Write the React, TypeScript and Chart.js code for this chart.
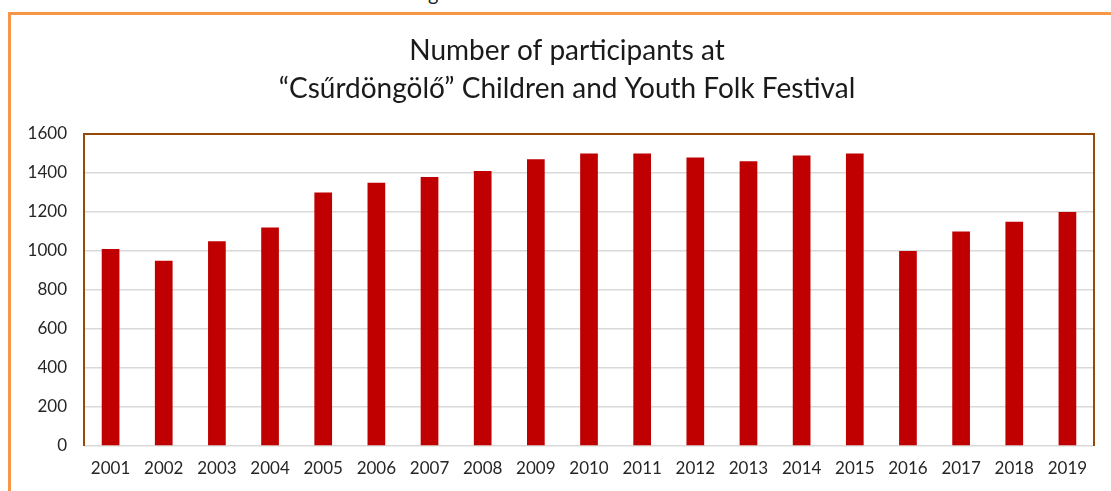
import React, { useEffect, useRef } from "react";
import { Chart, registerables } from "chart.js";

Chart.register(...registerables);

const years: string[] = [
  "2001", "2002", "2003", "2004", "2005", "2006", "2007", "2008", "2009", "2010",
  "2011", "2012", "2013", "2014", "2015", "2016", "2017", "2018", "2019",
];
const participants: number[] = [
  1010, 950, 1050, 1120, 1300, 1350, 1380, 1410, 1470, 1500,
  1500, 1480, 1460, 1490, 1500, 1000, 1100, 1150, 1200,
];
const titleLines: string[] = [
  "Number of participants at",
  "\u201CCs\u0171rd\u00F6ng\u00F6l\u0151\u201D Children and Youth Folk Festival",
];
const yMin = 0;
const yMax = 1600;
const yStep = 200;

const FONT = "Lato, 'Open Sans', sans-serif";

export default function App() {
  const ref = useRef<HTMLCanvasElement | null>(null);

  useEffect(() => {
    if (!ref.current) return;
    const framePlugin = {
      id: "frame",
      afterDraw(chart: any) {
        const { ctx, chartArea } = chart;
        const { left, right, top, bottom } = chartArea;
        ctx.save();
        ctx.strokeStyle = "#984807";
        ctx.lineWidth = 2;
        ctx.beginPath();
        ctx.moveTo(left, bottom);
        ctx.lineTo(left, top);
        ctx.lineTo(right, top);
        ctx.lineTo(right, bottom);
        ctx.stroke();
        ctx.restore();
      },
      beforeDraw(chart: any) {
        const { ctx } = chart;
        ctx.save();
        ctx.fillStyle = "#1a1a1a";
        ctx.font = `28px ${FONT}`;
        ctx.textAlign = "center";
        ctx.textBaseline = "alphabetic";
        ctx.fillText(titleLines[0], 567, 60);
        ctx.fillText(titleLines[1], 567, 98);
        ctx.restore();
      },
    };

    const chart = new Chart(ref.current, {
      type: "bar",
      data: {
        labels: years,
        datasets: [
          {
            data: participants,
            backgroundColor: "#C00000",
            borderWidth: 0,
            barPercentage: 0.9,
            categoryPercentage: 0.37,
          },
        ],
      },
      options: {
        animation: false,
        responsive: false,
        maintainAspectRatio: false,
        layout: { padding: { left: 0, top: 134, right: 17, bottom: 0 } },
        plugins: {
          legend: { display: false },
          title: { display: false },
          tooltip: { enabled: false },
        },
        scales: {
          x: {
            grid: { display: false, drawTicks: false },
            border: { display: false },
            ticks: {
              color: "#262626",
              font: { family: FONT, size: 17 },
              padding: 12,
              maxRotation: 0,
              autoSkip: false,
            },
            afterFit(scale: any) {
              scale.height = 45;
            },
          },
          y: {
            min: yMin,
            max: yMax,
            grid: { color: "#D9D9D9", lineWidth: 1.5, drawTicks: false },
            border: { display: false },
            ticks: {
              stepSize: yStep,
              color: "#262626",
              font: { family: FONT, size: 17 },
              padding: 17,
              callback: (v: any) => String(v),
            },
            afterFit(scale: any) {
              scale.width = 84;
            },
          },
        },
      },
      plugins: [framePlugin],
    });
    return () => chart.destroy();
  }, []);

  return (
    <div
      style={{
        position: "fixed",
        left: 0,
        top: 0,
        width: 1111,
        height: 491,
        overflow: "hidden",
        background: "#ffffff",
      }}
    >
      <div
        style={{
          position: "absolute",
          left: 428,
          top: -17,
          fontFamily: FONT,
          fontSize: 20,
          color: "#222",
          lineHeight: "20px",
        }}
      >
        g
      </div>
      <div
        style={{
          position: "absolute",
          left: 8,
          top: 12,
          width: 1140,
          height: 520,
          border: "3px solid #F79646",
          boxSizing: "border-box",
        }}
      />
      <canvas
        ref={ref}
        width={1111}
        height={491}
        style={{ position: "absolute", left: 0, top: 0, width: 1111, height: 491 }}
      />
    </div>
  );
}
